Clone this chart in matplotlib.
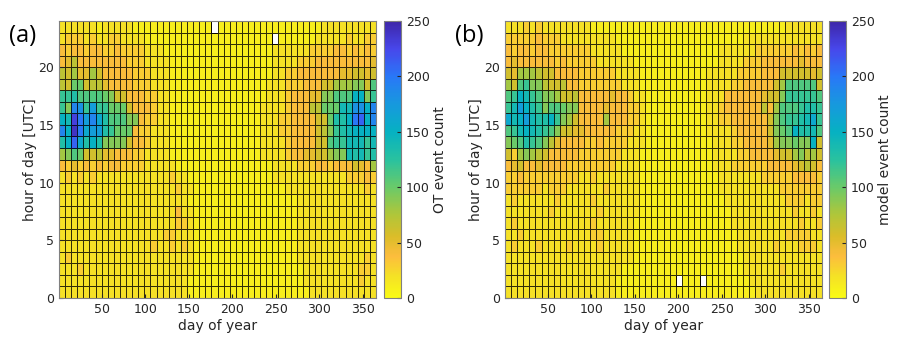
import numpy as np
import matplotlib
matplotlib.use('Agg')
import matplotlib.pyplot as plt
from matplotlib.colors import LinearSegmentedColormap

# Grid cells: 52 weekly bins (day 1..365) x 24 hours.
# Each row is one hour, written from hour 23 (top) down to hour 0.
# One character per cell: '0'-'9' -> 0..90, 'a'-'o' -> 100..240, '.' -> no data
day_edges = np.arange(1, 366, 7)
hour_edges = np.arange(0, 25)

rows_ot = [
    "2222 2212 2222 1111 1111 1111 1.11 1111 1111 1111 1112 2222 2222",
    "2333 2322 3322 2211 1111 1111 1111 1111 111. 1111 1122 2223 2233",
    "4344 3443 3433 3322 2111 1111 1111 1111 1112 2222 2333 3443 4343",
    "4574 4444 4443 3322 2211 1111 1111 1111 1112 2223 3344 4444 4445",
    "7685 5864 4444 3332 2211 1111 1111 1111 1112 2334 4444 4455 6656",
    "76aa 6775 4444 3332 2211 1111 1111 1111 1122 2333 4446 6888 996b",
    "ccdb bbba 9664 4433 2211 1111 1111 1111 1122 2344 4559 9bbb ff9c",
    "c9ji chcc aaa6 4443 2211 1111 1111 1111 1222 2344 477a aaee iifj",
    "fenk hjgd bbb9 9433 2211 1111 1111 1111 1222 3344 4466 addf klfj",
    "jfok ghhd caaa 4332 2211 1111 1111 1111 1222 3344 4467 9cde ffff",
    "dflg dfd9 9996 4432 2211 1111 1111 1111 1222 2344 4466 bcce eece",
    "89ba 6675 5444 3322 2211 1111 1111 1111 1222 2344 5566 899e decd",
    "4353 4343 4433 3322 2221 1111 1111 1111 1112 2223 3344 3444 6548",
    "2323 2322 2222 2222 2232 2111 1111 1111 1112 2222 2222 2223 3343",
    "2222 2222 2222 2222 2223 2211 1111 1111 1111 1222 2222 2222 2232",
    "2222 2222 2222 2222 2222 2111 1111 1111 1111 1112 2222 2222 2222",
    "2222 2222 2222 2222 2224 2211 1111 1111 1111 1112 2222 2222 2222",
    "2222 2222 2222 2222 2223 3211 1111 1111 1111 1112 2222 2222 2222",
    "2222 2222 2222 2222 2332 2211 1111 1111 1111 1112 2222 2222 2222",
    "2222 2222 2222 2223 2232 3211 1111 1111 1111 1112 2222 2222 2222",
    "2322 2222 2222 2222 2222 2211 1111 1111 1111 1112 2222 2222 2232",
    "2223 2222 2222 2222 2222 2211 1111 1111 1111 1111 2222 2222 2332",
    "2222 2222 2222 2222 2222 2111 1111 1111 1111 1111 2222 2222 2322",
    "2222 2222 2222 2222 2222 2111 1111 1111 1111 1111 1222 2222 2222",
]

rows_model = [
    "2223 2322 2222 2211 1111 1111 1111 1111 1111 1111 1111 1122 2222",
    "3333 3433 3222 2222 2211 1111 1111 1111 1111 1112 2222 2222 2222",
    "4344 3443 3333 3322 2221 1111 1111 1111 1112 2222 2333 3334 3434",
    "4544 4444 3433 3332 2222 2111 1111 1111 1112 2223 3344 4444 5444",
    "6588 8766 4444 3333 3322 2211 1111 1111 1222 2233 3344 4666 6656",
    "86bc 9976 6744 3333 3332 2211 1111 1111 1222 2334 4444 68bb bbb6",
    "bcfe cb99 8667 4444 4544 3221 1111 1111 1222 4444 4456 69cc cccb",
    "cehf dc9b ba99 4444 5444 3321 1111 1111 1223 4444 4474 8bbb cddc",
    "gefh eddf c986 4444 8444 3321 1111 1111 1223 3444 4446 9bcc degc",
    "bcef edcb 9665 5444 4433 3221 1111 1111 1222 2344 4446 9abf ddeb",
    "9abd cb97 5444 4334 3333 2221 1111 1111 1122 2334 4445 899a 99f6",
    "6389 8764 4444 3333 3332 2211 1111 1111 1122 2233 4444 5668 9786",
    "4564 4544 4433 3333 3322 2211 1111 1111 1122 2333 3334 4445 6764",
    "3343 3333 3333 2232 2222 2211 1111 1111 1112 2222 2233 3334 4443",
    "3333 3323 3322 2222 3222 2211 1111 1111 1112 2222 2222 2333 3333",
    "2322 2222 3222 2232 2222 2211 1111 1111 1111 2222 2222 2233 3233",
    "2222 2223 2222 2223 2222 2211 1111 1111 1111 1222 2222 2223 2232",
    "2322 2222 2222 2232 2222 2111 1111 1111 1111 1222 2222 2222 3223",
    "2232 2222 2222 2233 2222 2111 1111 1111 1111 1122 2222 2233 3322",
    "2322 2322 2232 2223 2222 2111 1111 1111 1111 1122 2222 3222 3332",
    "2222 2222 2222 2222 2222 2111 1111 1111 1111 1112 2222 2222 2222",
    "2222 2222 2222 2222 2221 1111 1111 1111 1111 1112 2222 2322 2222",
    "2222 2222 2222 2222 2211 1111 1111 .111 .111 1111 2222 2222 2222",
    "2222 2222 2222 2222 2211 1111 1111 1111 1111 1111 1222 2222 2222",
]

cbar_labels = ['OT event count', 'model event count']
panel_labels = ['(a)', '(b)']


def decode(rows):
    grid = []
    for r in rows[::-1]:  # bottom row = hour 0
        r = r.replace(' ', '')
        if len(r) != 52:
            raise ValueError('bad row length %d: %s' % (len(r), r))
        vals = []
        for ch in r:
            if ch == '.':
                vals.append(np.nan)
            else:
                vals.append(int(ch, 36) * 10)
        grid.append(vals)
    return np.ma.masked_invalid(np.array(grid, dtype=float))


# parula-like colormap, flipped so that 0 is yellow
parula_pts = [
    (0.2422, 0.1504, 0.6603), (0.2803, 0.2782, 0.9221), (0.1600, 0.4700, 0.9700),
    (0.0900, 0.6000, 0.8700), (0.0232, 0.6941, 0.7607), (0.1600, 0.7600, 0.6250),
    (0.4125, 0.7917, 0.4134), (0.6900, 0.7760, 0.2250), (0.8600, 0.7400, 0.1600),
    (0.9900, 0.7400, 0.2400), (0.9600, 0.8800, 0.1500), (0.9769, 0.9839, 0.0805),
]
parula_pos = [0.0, 0.1, 0.2, 0.3, 0.4, 0.5, 0.6, 0.7, 0.78, 0.85, 0.92, 1.0]
cmap = LinearSegmentedColormap.from_list('parula', list(zip(parula_pos, parula_pts)))
cmap = cmap.reversed()

data = [decode(rows_ot), decode(rows_model)]

fig = plt.figure(figsize=(9, 3.44), dpi=100)

ax_left = [59, 505]
cb_left = [384, 829]
for i in range(2):
    ax = fig.add_axes([ax_left[i] / 900, 1 - 298 / 344, 317 / 900, 277 / 344])
    mesh = ax.pcolormesh(day_edges, hour_edges, data[i], cmap=cmap, vmin=0, vmax=250,
                         edgecolors=(0, 0, 0, 0.8), linewidth=0.6)
    ax.set_xlim(1, 365)
    ax.set_ylim(0, 24)
    ax.set_xticks([50, 100, 150, 200, 250, 300, 350])
    ax.set_yticks([0, 5, 10, 15, 20])
    ax.tick_params(direction='in', length=3, labelsize=9, colors='#262626')
    for s in ax.spines.values():
        s.set_color('#808080')
        s.set_linewidth(0.8)
    ax.set_xlabel('day of year', fontsize=10, color='#262626', labelpad=2)
    ax.set_ylabel('hour of day [UTC]', fontsize=10, color='#262626', labelpad=1)

    cax = fig.add_axes([cb_left[i] / 900, 1 - 298 / 344, 17 / 900, 277 / 344])
    cb = fig.colorbar(mesh, cax=cax, ticks=[0, 50, 100, 150, 200, 250])
    cb.outline.set_edgecolor('#808080')
    cb.outline.set_linewidth(0.8)
    cax.tick_params(direction='in', length=3, labelsize=9, colors='#262626')
    cb.set_label(cbar_labels[i], fontsize=10, color='#262626', labelpad=2)

    fig.text((ax_left[i] - 50) / 900, 1 - 36 / 344, panel_labels[i], fontsize=17,
             family='Open Sans', va='center', ha='left')

plt.savefig('out.png', dpi=100)
plt.close()
